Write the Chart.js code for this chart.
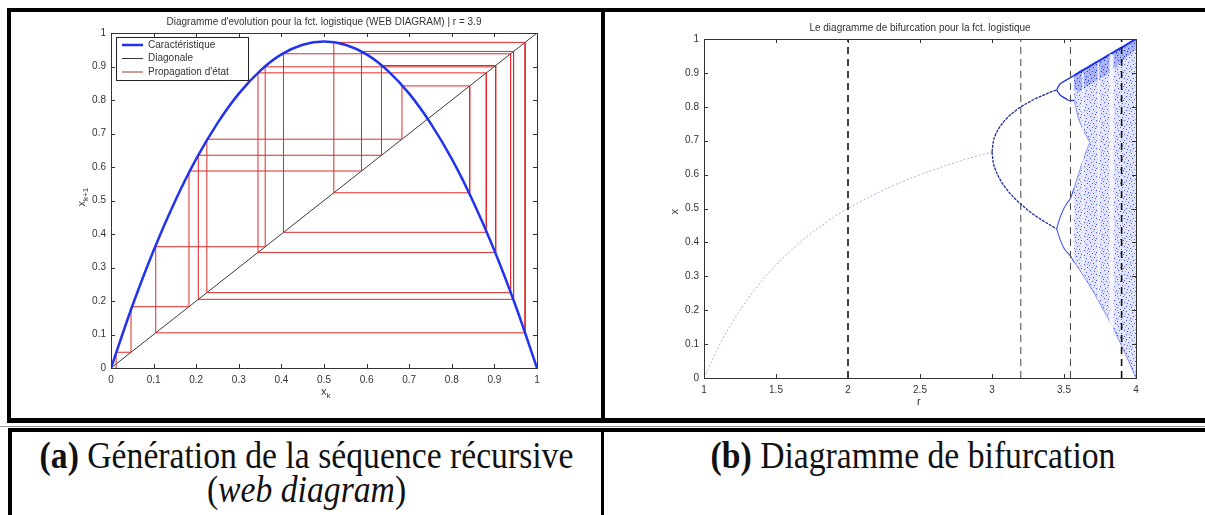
<!DOCTYPE html>
<html>
<head>
<meta charset="utf-8">
<script src="https://cdn.jsdelivr.net/npm/chart.js@4.4.1/dist/chart.umd.min.js"></script>
<style>
  body { margin: 0; width: 1205px; height: 515px; overflow: hidden; background: #fff; position: relative; }
  canvas { position: absolute; }
  .bar { position: absolute; background: #000; }
  .cap { position: absolute; font-family: "Liberation Serif", "DejaVu Serif", serif; font-size: 37px; line-height: 37px; color: #111; white-space: nowrap; text-align: center; transform: scaleX(0.91); }
  .cap b { font-weight: bold; }
</style>
</head>
<body>
<canvas id="web-chart" width="600" height="418" style="left:0;top:0"></canvas>
<canvas id="bif-chart" width="599" height="418" style="left:606px;top:0"></canvas>

<!-- table frame -->
<div class="bar" style="left:7px;top:8px;width:1198px;height:4px"></div>
<div class="bar" style="left:7px;top:8px;width:4px;height:415px"></div>
<div class="bar" style="left:601px;top:8px;width:4px;height:415px"></div>
<div class="bar" style="left:7px;top:418px;width:1198px;height:5px"></div>
<div class="bar" style="left:0;top:426px;width:1205px;height:1px;background:#999"></div>
<div class="bar" style="left:8px;top:428px;width:1197px;height:4px"></div>
<div class="bar" style="left:8px;top:428px;width:4px;height:87px"></div>
<div class="bar" style="left:601px;top:428px;width:3px;height:87px"></div>

<div class="cap" style="left:12px;width:589px;top:437px"><b>(a)</b> Génération de la séquence récursive</div>
<div class="cap" style="left:12px;width:589px;top:471px">(<i>web diagram</i>)</div>
<div class="cap" style="left:613px;width:600px;top:437px"><b>(b)</b> Diagramme de bifurcation</div>

<script>
// ---- web diagram data (r = 3.9) ----
const r = 3.9;
const charX = [0, 0.05, 0.1, 0.15, 0.2, 0.25, 0.3, 0.35, 0.4, 0.45, 0.5, 0.55, 0.6, 0.65, 0.7, 0.75, 0.8, 0.85, 0.9, 0.95, 1];
const charY = [0, 0.185, 0.351, 0.497, 0.624, 0.731, 0.819, 0.887, 0.936, 0.965, 0.975, 0.965, 0.936, 0.887, 0.819, 0.731, 0.624, 0.497, 0.351, 0.185, 0];
const diagX = [0, 1];
const diagY = [0, 1];
// successive states x_k
const orbit = [0.012, 0.047, 0.183, 0.588, 0.945, 0.205, 0.635, 0.903, 0.345, 0.881, 0.405, 0.938, 0.225, 0.683, 0.842, 0.523, 0.972, 0.105, 0.362, 0.899];
const unitTicks = [0, 0.1, 0.2, 0.3, 0.4, 0.5, 0.6, 0.7, 0.8, 0.9, 1];

// ---- bifurcation diagram data ----
const rTicks = [1, 1.5, 2, 2.5, 3, 3.5, 4];
const rStable = [1, 1.1, 1.2, 1.3, 1.4, 1.5, 1.6, 1.7, 1.8, 1.9, 2, 2.2, 2.4, 2.6, 2.8, 2.9, 3];
const xStable = [0, 0.091, 0.167, 0.231, 0.286, 0.333, 0.375, 0.412, 0.444, 0.474, 0.5, 0.545, 0.583, 0.615, 0.643, 0.655, 0.667];
const rP2 = [3, 3.01, 3.02, 3.05, 3.1, 3.15, 3.2, 3.25, 3.3, 3.35, 3.4, 3.449];
const xP2Up = [0.667, 0.699, 0.713, 0.738, 0.765, 0.784, 0.800, 0.812, 0.824, 0.833, 0.842, 0.850];
const xP2Low = [0.667, 0.633, 0.619, 0.590, 0.558, 0.533, 0.513, 0.495, 0.479, 0.465, 0.452, 0.440];
const rP4 = [3.449, 3.47, 3.5, 3.52, 3.545, 3.57];
const xP4a = [0.850, 0.866, 0.875, 0.880, 0.886, 0.892];
const xP4b = [0.850, 0.836, 0.827, 0.822, 0.818, 0.820];
const xP4c = [0.440, 0.470, 0.501, 0.515, 0.530, 0.560];
const xP4d = [0.440, 0.412, 0.383, 0.372, 0.360, 0.342];
const rChaos = [3.57, 3.6, 3.63, 3.66, 3.68, 3.72, 3.76, 3.8, 3.84, 3.88, 3.92, 3.96, 4];
const chaosTop = [0.892, 0.900, 0.908, 0.915, 0.920, 0.930, 0.940, 0.950, 0.960, 0.970, 0.980, 0.990, 1.000];
const denseEdge = [0.850, 0.845, 0.850, 0.860, 0.865, 0.875, 0.885, 0.895, 0.910, 0.925, 0.940, 0.955, 0.970];
const gapTop = [0.820, 0.765, 0.735, 0.710, 0.695, 0.700, 0.700, 0.700, 0.700, 0.700, 0.700, 0.700, 0.700];
const gapLow = [0.560, 0.600, 0.640, 0.675, 0.695, 0.700, 0.700, 0.700, 0.700, 0.700, 0.700, 0.700, 0.700];
const chaosLow = [0.342, 0.324, 0.305, 0.285, 0.271, 0.242, 0.212, 0.181, 0.148, 0.113, 0.077, 0.039, 0];
// periodic windows (light streaks inside the chaotic zone)
const windowR = [3.632, 3.739, 3.83];
const windowLow = [0.31, 0.23, 0.14];
const windowHigh = [0.90, 0.93, 0.955];
const dashedR = [2, 3.2, 3.545, 3.9];

const pts = (xs, ys) => xs.map((x, i) => ({ x: x, y: ys[i] }));

function webPoints() {
    const p = [{ x: orbit[0], y: 0 }];
    for (let i = 0; i < orbit.length - 1; i++) {
        p.push({ x: orbit[i], y: orbit[i + 1] });
        p.push({ x: orbit[i + 1], y: orbit[i + 1] });
    }
    return p;
}

// MATLAB-like box with inward ticks + title + axis labels
const matlabAxes = {
    id: 'matlabAxes',
    afterDraw(chart, args, opts) {
        const ctx = chart.ctx;
        const a = chart.chartArea;
        const xs = chart.scales.x, ys = chart.scales.y;
        ctx.save();
        ctx.strokeStyle = '#333';
        ctx.lineWidth = 1;
        ctx.strokeRect(a.left + 0.5, a.top + 0.5, a.right - a.left, a.bottom - a.top);
        ctx.beginPath();
        xs.ticks.forEach(t => {
            const px = Math.round(xs.getPixelForValue(t.value)) + 0.5;
            ctx.moveTo(px, a.bottom); ctx.lineTo(px, a.bottom - 4);
            ctx.moveTo(px, a.top); ctx.lineTo(px, a.top + 4);
        });
        ys.ticks.forEach(t => {
            const py = Math.round(ys.getPixelForValue(t.value)) + 0.5;
            ctx.moveTo(a.left, py); ctx.lineTo(a.left + 4, py);
            ctx.moveTo(a.right, py); ctx.lineTo(a.right - 4, py);
        });
        ctx.stroke();
        ctx.fillStyle = '#333';
        ctx.font = '10px "Liberation Sans", Arial, sans-serif';
        ctx.textAlign = 'center';
        ctx.textBaseline = 'alphabetic';
        ctx.fillText(opts.title, (a.left + a.right) / 2, a.top - 8);
        // x label with subscript
        const cx = (a.left + a.right) / 2;
        ctx.font = '11px "Liberation Sans", Arial, sans-serif';
        ctx.textAlign = 'left';
        const xw = ctx.measureText(opts.xLabel[0]).width;
        ctx.fillText(opts.xLabel[0], cx - 3, a.bottom + 27);
        if (opts.xLabel[1]) {
            ctx.font = '8px "Liberation Sans", Arial, sans-serif';
            ctx.fillText(opts.xLabel[1], cx - 3 + xw, a.bottom + 30);
        }
        ctx.translate(a.left - opts.yLabelGap, (a.top + a.bottom) / 2);
        ctx.rotate(-Math.PI / 2);
        ctx.font = '11px "Liberation Sans", Arial, sans-serif';
        ctx.fillText(opts.yLabel[0], -6, 0);
        const yw = ctx.measureText(opts.yLabel[0]).width;
        if (opts.yLabel[1]) {
            ctx.font = '8px "Liberation Sans", Arial, sans-serif';
            ctx.fillText(opts.yLabel[1], -6 + yw, 3);
        }
        ctx.restore();
    }
};

// legend box inside the web plot
const boxLegend = {
    id: 'boxLegend',
    afterDraw(chart, args, opts) {
        if (!opts.show) return;
        const ctx = chart.ctx;
        ctx.save();
        ctx.fillStyle = '#fff';
        ctx.fillRect(116, 37, 132, 43);
        ctx.strokeStyle = '#222';
        ctx.lineWidth = 1;
        ctx.strokeRect(116.5, 37.5, 132, 43);
        ctx.font = '10px "Liberation Sans", Arial, sans-serif';
        ctx.textBaseline = 'middle';
        chart.data.datasets.forEach((ds, i) => {
            const y = 45 + i * 13.5;
            ctx.strokeStyle = ds.legendColor || ds.borderColor;
            ctx.lineWidth = ds.borderWidth;
            ctx.beginPath(); ctx.moveTo(122, y); ctx.lineTo(143, y); ctx.stroke();
            ctx.fillStyle = '#333';
            ctx.fillText(ds.label, 148, y);
        });
        ctx.restore();
    }
};

function fixedTicks(list) {
    return function (scale) { scale.ticks = list.map(v => ({ value: v })); };
}

function axisOpts(min, max, ticks, size, isX) {
    return {
        type: 'linear', min: min, max: max,
        afterBuildTicks: fixedTicks(ticks),
        afterFit: s => { if (isX) s.height = size; else s.width = size; },
        grid: { display: false, drawTicks: false },
        border: { display: false },
        ticks: {
            color: '#333',
            padding: isX ? 6 : 5,
            font: { family: '"Liberation Sans", Arial, sans-serif', size: 10 },
            callback: v => String(Math.round(v * 10) / 10)
        }
    };
}

// scattered-dot texture for the chaotic zone
function dotPattern(bg, fg) {
    const c = document.createElement('canvas');
    c.width = 14; c.height = 14;
    const g = c.getContext('2d');
    g.fillStyle = bg;
    g.fillRect(0, 0, 14, 14);
    g.fillStyle = fg;
    [[0, 0], [5, 1], [10, 1], [2, 3], [8, 4], [12, 5], [4, 6], [0, 8], [9, 8], [6, 10], [11, 11], [2, 12], [7, 13], [13, 2], [3, 9]]
        .forEach(p => g.fillRect(p[0], p[1], 1, 1));
    g.globalAlpha = 0.45;
    [[7, 2], [1, 5], [11, 7], [5, 12], [12, 13], [8, 11]].forEach(p => g.fillRect(p[0], p[1], 1, 1));
    return g.createPattern(c, 'repeat');
}

const baseOptions = {
    responsive: false,
    animation: false,
    devicePixelRatio: 1,
    elements: { point: { radius: 0 }, line: { tension: 0 } },
    plugins: { legend: { display: false }, tooltip: { enabled: false } }
};

window.onload = function () {
    // (a) web diagram
    new Chart(document.getElementById('web-chart').getContext('2d'), {
        type: 'scatter',
        data: {
            datasets: [
                { label: 'Caractéristique', data: pts(charX, charY), showLine: true, borderColor: '#2233ee', borderWidth: 2.5, cubicInterpolationMode: 'monotone', order: 0 },
                { label: 'Diagonale', data: pts(diagX, diagY), showLine: true, borderColor: '#3a3a3a', borderWidth: 1, order: 2 },
                { label: "Propagation d'état", data: webPoints(), showLine: true, borderColor: '#e02a2a', legendColor: '#a03a3a', borderWidth: 1, order: 1 }
            ]
        },
        options: Object.assign({}, baseOptions, {
            layout: { padding: { left: 71, right: 63, top: 33, bottom: 0 } },
            scales: {
                x: axisOpts(0, 1, unitTicks, 50, true),
                y: axisOpts(0, 1, unitTicks, 40, false)
            },
            plugins: {
                legend: { display: false }, tooltip: { enabled: false },
                matlabAxes: { title: "Diagramme d'evolution pour la fct. logistique (WEB DIAGRAM) | r = " + r, xLabel: ['x', 'k'], yLabel: ['x', 'k+1'], yLabelGap: 26 },
                boxLegend: { show: true }
            }
        }),
        plugins: [matlabAxes, boxLegend]
    });

    // (b) bifurcation diagram
    const ctxB = document.getElementById('bif-chart').getContext('2d');
    const dots = dotPattern('rgba(110,125,245,0.2)', 'rgba(40,60,235,0.85)');
    const denseDots = dotPattern('rgba(70,90,240,0.45)', 'rgba(20,40,220,0.95)');
    const gapEdge = { borderColor: c => c.p0.parsed.x >= 3.68 ? 'rgba(0,0,0,0)' : undefined };
    const dashed = dashedR.map((rv, i) => ({
        data: [{ x: rv, y: 0 }, { x: rv, y: 1 }], showLine: true,
        borderColor: (i === 0 || i === 3) ? '#111' : '#444',
        borderWidth: (i === 0 || i === 3) ? 1.6 : 1,
        borderDash: [7, 5], order: -2
    }));
    const windows = windowR.map((rv, i) => ({
        data: [{ x: rv, y: windowLow[i] }, { x: rv, y: windowHigh[i] }], showLine: true,
        borderColor: 'rgba(255,255,255,0.85)', borderWidth: i === 2 ? 4 : 1.5, order: -1
    }));
    new Chart(ctxB, {
        type: 'scatter',
        data: {
            datasets: [
                { data: pts(rStable, xStable), showLine: true, borderColor: 'rgba(150,158,210,0.8)', borderWidth: 1, borderDash: [2, 2], cubicInterpolationMode: 'monotone' },
                { data: pts(rP2, xP2Up), showLine: true, borderColor: '#1f2c9c', borderWidth: 1.3, borderDash: [3, 1], cubicInterpolationMode: 'monotone' },
                { data: pts(rP2, xP2Low), showLine: true, borderColor: '#1f2c9c', borderWidth: 1.3, borderDash: [3, 1], cubicInterpolationMode: 'monotone' },
                { data: pts(rP4, xP4a), showLine: true, borderColor: '#2233dd', borderWidth: 1.3, cubicInterpolationMode: 'monotone' },
                { data: pts(rP4, xP4b), showLine: true, borderColor: '#2233dd', borderWidth: 1.3, cubicInterpolationMode: 'monotone' },
                { data: pts(rP4, xP4c), showLine: true, borderColor: '#4455ee', borderWidth: 1.1, cubicInterpolationMode: 'monotone' },
                { data: pts(rP4, xP4d), showLine: true, borderColor: '#4455ee', borderWidth: 1.1, cubicInterpolationMode: 'monotone' },
                { data: pts(rChaos, chaosTop), showLine: true, borderColor: '#1f33e8', borderWidth: 2 },
                { data: pts(rChaos, denseEdge), showLine: true, borderWidth: 0, borderColor: 'rgba(0,0,0,0)', fill: '-1', backgroundColor: denseDots },
                { data: pts(rChaos, gapTop), showLine: true, borderColor: 'rgba(60,80,235,0.6)', borderWidth: 1, segment: gapEdge, fill: '-1', backgroundColor: dots },
                { data: pts(rChaos, gapLow), showLine: true, borderColor: 'rgba(60,80,235,0.6)', borderWidth: 1, segment: gapEdge },
                { data: pts(rChaos, chaosLow), showLine: true, borderColor: 'rgba(60,80,235,0.6)', borderWidth: 1, fill: '-1', backgroundColor: dots }
            ].concat(windows, dashed)
        },
        options: Object.assign({}, baseOptions, {
            layout: { padding: { left: 63, right: 69, top: 39, bottom: 0 } },
            scales: {
                x: axisOpts(1, 4, rTicks, 40, true),
                y: axisOpts(0, 1, unitTicks, 35, false)
            },
            plugins: {
                legend: { display: false }, tooltip: { enabled: false },
                matlabAxes: { title: 'Le diagramme de bifurcation pour la fct. logistique', xLabel: ['r', ''], yLabel: ['x', ''], yLabelGap: 26 }
            }
        }),
        plugins: [matlabAxes]
    });
};
</script>
</body>
</html>
